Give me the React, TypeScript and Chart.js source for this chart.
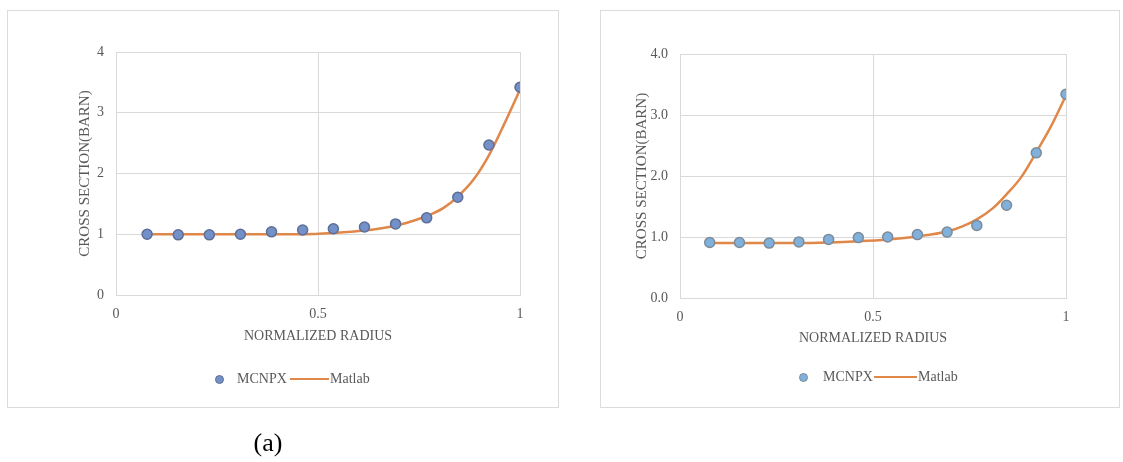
import React, { useEffect, useRef } from "react";
import { Chart, registerables } from "chart.js";

Chart.register(...registerables);

// ---- data ----
const radiusPoints = [0.077, 0.154, 0.231, 0.308, 0.385, 0.462, 0.538, 0.615, 0.692, 0.769, 0.846, 0.923, 1.0];
const mcnpxA = [1.0, 0.99, 0.99, 1.0, 1.04, 1.07, 1.09, 1.12, 1.17, 1.27, 1.61, 2.47, 3.42];
const mcnpxB = [0.91, 0.91, 0.9, 0.92, 0.96, 0.99, 1.0, 1.04, 1.08, 1.19, 1.52, 2.38, 3.34];

const radiusCurve = [0.077, 0.154, 0.231, 0.308, 0.385, 0.462, 0.538, 0.615, 0.692, 0.73, 0.769, 0.81, 0.846, 0.885, 0.923, 0.96, 1.0];
const matlabA = [1.0, 1.0, 1.0, 1.0, 1.0, 1.0, 1.02, 1.06, 1.14, 1.21, 1.3, 1.43, 1.62, 1.9, 2.3, 2.8, 3.38];
const matlabB = [0.9, 0.9, 0.9, 0.9, 0.91, 0.93, 0.96, 1.01, 1.09, 1.17, 1.29, 1.47, 1.7, 1.99, 2.39, 2.8, 3.32];

const xTicks = [0, 0.5, 1];
const xTickLabels = ["0", "0.5", "1"];
const yTicks = [0, 1, 2, 3, 4];
const yTickLabelsA = ["0", "1", "2", "3", "4"];
const yTickLabelsB = ["0.0", "1.0", "2.0", "3.0", "4.0"];

const xTitle = "NORMALIZED RADIUS";
const yTitle = "CROSS SECTION(BARN)";
const seriesNames = ["MCNPX", "Matlab"];

const FONT = "'Liberation Serif', 'Times New Roman', serif";
const TEXT = "#595959";
const GRID = "#d9d9d9";
const ORANGE = "#E0874A";

type PanelProps = {
  width: number;
  height: number;
  mcnpx: number[];
  matlab: number[];
  yLabels: string[];
  pointFill: string;
  pointBorder: string;
  pad: { left: number; right: number; top: number; bottom: number };
  yAxisWidth: number;
  xAxisHeight: number;
};

function Panel(p: PanelProps) {
  const ref = useRef<HTMLCanvasElement | null>(null);
  useEffect(() => {
    if (!ref.current) return;
    const chart = new Chart(ref.current, {
      type: "scatter",
      data: {
        datasets: [
          {
            label: seriesNames[0],
            data: radiusPoints.map((x, i) => ({ x, y: p.mcnpx[i] })),
            showLine: false,
            pointRadius: 5,
            pointHoverRadius: 5,
            pointBackgroundColor: p.pointFill,
            pointBorderColor: p.pointBorder,
            pointBorderWidth: 1.5,
          },
          {
            label: seriesNames[1],
            data: radiusCurve.map((x, i) => ({ x, y: p.matlab[i] })),
            showLine: true,
            borderColor: ORANGE,
            borderWidth: 2.5,
            pointRadius: 0,
            cubicInterpolationMode: "monotone",
            tension: 0.4,
          },
        ],
      } as any,
      options: {
        responsive: false,
        animation: false,
        layout: { padding: p.pad },
        plugins: { legend: { display: false }, tooltip: { enabled: false } },
        scales: {
          x: {
            type: "linear",
            min: 0,
            max: 1,
            afterBuildTicks: (s: any) => {
              s.ticks = xTicks.map((v) => ({ value: v }));
            },
            afterFit: (s: any) => {
              s.height = p.xAxisHeight;
            },
            ticks: {
              padding: 11,
              color: TEXT,
              font: { family: FONT, size: 14 },
              maxRotation: 0,
              callback: (_v: any, i: number) => xTickLabels[i],
            },
            grid: { color: GRID, lineWidth: 1, drawTicks: false },
            border: { display: true, color: GRID },
            title: {
              display: true,
              text: xTitle,
              color: TEXT,
              font: { family: FONT, size: 14 },
              padding: 0,
            },
          },
          y: {
            type: "linear",
            min: 0,
            max: 4,
            afterBuildTicks: (s: any) => {
              s.ticks = yTicks.map((v) => ({ value: v }));
            },
            afterFit: (s: any) => {
              s.width = p.yAxisWidth;
            },
            ticks: {
              padding: 12,
              color: TEXT,
              font: { family: FONT, size: 14 },
              callback: (_v: any, i: number) => p.yLabels[i],
            },
            grid: { color: GRID, lineWidth: 1, drawTicks: false },
            border: { display: true, color: GRID },
            title: {
              display: true,
              text: yTitle,
              color: TEXT,
              font: { family: FONT, size: 15 },
              padding: 0,
            },
          },
        },
      } as any,
    });
    return () => chart.destroy();
  }, []);
  return (
    <canvas
      ref={ref}
      width={p.width}
      height={p.height}
      style={{ position: "absolute", left: 0, top: 0, width: p.width, height: p.height }}
    />
  );
}

type LegendProps = {
  cx: number;
  cy: number;
  text1X: number;
  lineX1: number;
  lineX2: number;
  text2X: number;
  fill: string;
  border: string;
};

function Legend(l: LegendProps) {
  const txt: React.CSSProperties = {
    position: "absolute",
    top: l.cy - 9,
    height: 18,
    lineHeight: "18px",
    fontFamily: FONT,
    fontSize: 14,
    color: TEXT,
    whiteSpace: "nowrap",
  };
  return (
    <>
      <div
        style={{
          position: "absolute",
          left: l.cx - 4.5,
          top: l.cy - 4.5,
          width: 9,
          height: 9,
          borderRadius: "50%",
          background: l.fill,
          boxSizing: "border-box",
          border: `1.5px solid ${l.border}`,
        }}
      />
      <div style={{ ...txt, left: l.text1X }}>{seriesNames[0]}</div>
      <div
        style={{
          position: "absolute",
          left: l.lineX1,
          top: l.cy - 1.25,
          width: l.lineX2 - l.lineX1,
          height: 2.5,
          background: ORANGE,
        }}
      />
      <div style={{ ...txt, left: l.text2X }}>{seriesNames[1]}</div>
    </>
  );
}

export default function App() {
  return (
    <div
      style={{
        position: "fixed",
        left: 0,
        top: 0,
        width: 1123,
        height: 462,
        background: "#ffffff",
        overflow: "hidden",
      }}
    >
      {/* left panel */}
      <div
        style={{
          position: "absolute",
          left: 7,
          top: 10,
          width: 552,
          height: 398,
          border: "1px solid #dcdcdc",
          boxSizing: "border-box",
        }}
      >
        <Panel
          width={550}
          height={396}
          mcnpx={mcnpxA}
          matlab={matlabA}
          yLabels={yTickLabelsA}
          pointFill="#7390c9"
          pointBorder="#5d6f96"
          pad={{ left: 68, right: 38, top: 41, bottom: 62 }}
          yAxisWidth={40}
          xAxisHeight={50}
        />
      </div>
      <Legend cx={219} cy={379} text1X={237} lineX1={290} lineX2={329} text2X={330} fill="#7390c9" border="#5d6f96" />

      {/* right panel */}
      <div
        style={{
          position: "absolute",
          left: 600,
          top: 10,
          width: 520,
          height: 398,
          border: "1px solid #dcdcdc",
          boxSizing: "border-box",
        }}
      >
        <Panel
          width={518}
          height={396}
          mcnpx={mcnpxB}
          matlab={matlabB}
          yLabels={yTickLabelsB}
          pointFill="#7fb1dc"
          pointBorder="#7d8b98"
          pad={{ left: 32, right: 53, top: 43, bottom: 60 }}
          yAxisWidth={47}
          xAxisHeight={49}
        />
      </div>
      <Legend cx={803} cy={377} text1X={823} lineX1={874} lineX2={917} text2X={918} fill="#7fb1dc" border="#7d8b98" />

      <div
        style={{
          position: "absolute",
          left: 228,
          top: 427,
          width: 80,
          textAlign: "center",
          fontFamily: FONT,
          fontSize: 26,
          lineHeight: "32px",
          color: "#000000",
        }}
      >
        (a)
      </div>
    </div>
  );
}
